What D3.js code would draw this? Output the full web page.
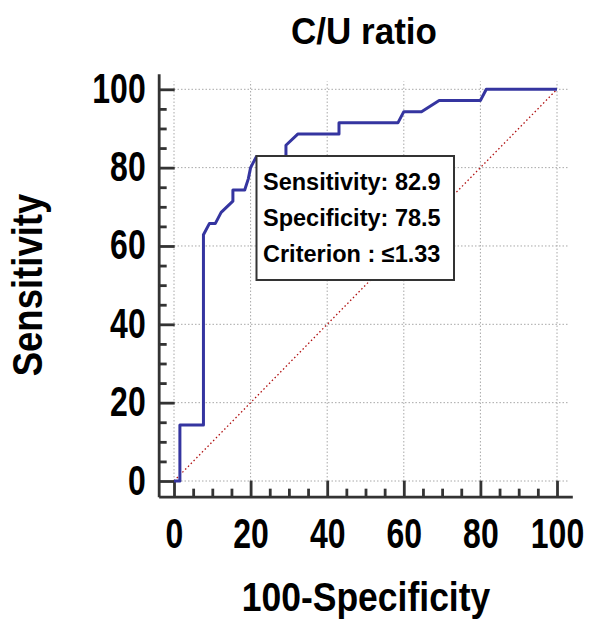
<!DOCTYPE html>
<html>
<head>
<meta charset="utf-8">
<script src="https://cdn.jsdelivr.net/npm/d3@7"></script>
<style>
  body { margin: 0; background: #fff; }
  text { font-family: "Liberation Sans", Arial, sans-serif; font-weight: bold; fill: #000; }
</style>
</head>
<body>
<div class="chart"></div>
<script>
// ROC curve points: 100-Specificity (x) and Sensitivity (y)
var fpr = [0, 1.54, 1.54, 7.69, 7.69, 9.23, 10.77, 12.31, 15.38, 15.38, 18.46, 19.4, 20, 21.54, 29.23, 29.23, 32.31, 43.08, 43.08, 58.46, 60, 64.62, 69.23, 80, 81.54, 100];
var tpr = [0, 0, 14.29, 14.29, 62.86, 65.71, 65.71, 68.57, 71.43, 74.29, 74.29, 77.14, 80, 82.86, 82.86, 85.71, 88.57, 88.57, 91.43, 91.43, 94.29, 94.29, 97.14, 97.14, 100, 100];
var majorTicks = [0, 20, 40, 60, 80, 100];
var minorTicks = d3.range(0, 101, 5).filter(d => d % 20 !== 0);
var boxLines = ['Sensitivity: 82.9', 'Specificity: 78.5', 'Criterion : \u22641.33'];

var W = 589, H = 620;
var svg = d3.select('.chart')
    .append('svg')
    .attr('width', W)
    .attr('height', H);

var x = d3.scaleLinear().domain([0, 100]).range([174, 557]);
var y = d3.scaleLinear().domain([0, 100]).range([481, 89.3]);

// axis scales reach a bit past the data range, like the original frame
var xAxisScale = x.copy().domain([-4, 104]).range([x(-4), x(104)]);
var yAxisScale = y.copy().domain([-4, 104]).range([y(-4), y(104)]);
var axisX0 = x(-4), axisY0 = y(-4);

/**
 * Grid
 */
var grid = svg.append('g')
    .attr('stroke', '#a8a8a8')
    .attr('stroke-width', 1)
    .attr('stroke-dasharray', '1.5,2');
grid.selectAll('.gx').data(majorTicks).enter()
    .append('line')
    .attr('x1', d => x(d)).attr('x2', d => x(d))
    .attr('y1', y(0)).attr('y2', y(102));
grid.selectAll('.gy').data(majorTicks).enter()
    .append('line')
    .attr('y1', d => y(d)).attr('y2', d => y(d))
    .attr('x1', x(0)).attr('x2', x(103));

// reference diagonal
svg.append('line')
    .attr('x1', x(0)).attr('y1', y(0))
    .attr('x2', x(100)).attr('y2', y(100))
    .attr('stroke', '#b01010')
    .attr('stroke-width', 1.3)
    .attr('stroke-dasharray', '1.5,2.5');

/**
 * Axes (ticks point inward)
 */
var yAxis = d3.axisLeft(yAxisScale)
    .tickValues(majorTicks)
    .tickSizeInner(-16)
    .tickSizeOuter(0)
    .tickPadding(13);
var gy = svg.append('g')
    .attr('transform', `translate(${axisX0}, 0)`)
    .call(yAxis);
gy.append('g').call(d3.axisLeft(yAxisScale).tickValues(minorTicks).tickSize(-8).tickFormat(''))
    .select('.domain').remove();
// labels in the original are drawn a little taller than the font
gy.selectAll('.tick text')
    .attr('y', 0).attr('dy', null)
    .attr('transform', 'translate(0, 13) scale(1, 1.3)');

var xAxis = d3.axisBottom(xAxisScale)
    .tickValues(majorTicks)
    .tickSizeInner(-16)
    .tickSizeOuter(0)
    .tickPadding(21);
var gx = svg.append('g')
    .attr('transform', `translate(0, ${axisY0})`)
    .call(xAxis);
gx.append('g').call(d3.axisBottom(xAxisScale).tickValues(minorTicks).tickSize(-8).tickFormat(''))
    .select('.domain').remove();
gx.selectAll('.tick text')
    .attr('y', 0).attr('dy', null)
    .attr('transform', 'translate(0, 51) scale(1, 1.3)');

svg.selectAll('.domain, .tick line')
    .attr('stroke', '#333')
    .attr('stroke-width', 2.8);
svg.selectAll('.tick text')
    .style('font-size', '32px')
    .style('font-family', '"Liberation Sans", Arial, sans-serif')
    .style('font-weight', 'bold')
    .attr('fill', '#000');

/**
 * ROC curve
 */
var line = d3.line()
    .x((d, i) => x(fpr[i]))
    .y((d, i) => y(tpr[i]));
svg.append('path')
    .datum(fpr)
    .attr('d', line)
    .attr('fill', 'none')
    .attr('stroke', '#3535a0')
    .attr('stroke-width', 3)
    .attr('stroke-linejoin', 'round');

/**
 * Info box
 */
var box = svg.append('g');
box.append('rect')
    .attr('x', 256.5).attr('y', 156)
    .attr('width', 197.5).attr('height', 124)
    .attr('fill', '#fff')
    .attr('stroke', '#333')
    .attr('stroke-width', 2);
box.selectAll('.info').data(boxLines).enter()
    .append('text')
    .attr('x', 263)
    .attr('y', (d, i) => 189.5 + i * 36)
    .style('font-size', '23.5px')
    .text(d => d);

/**
 * Titles
 */
svg.append('text')
    .attr('transform', 'translate(364, 44) scale(1, 1.05)')
    .attr('text-anchor', 'middle')
    .style('font-size', '35px')
    .text('C/U ratio');

svg.append('text')
    .attr('transform', 'translate(366, 611) scale(1, 1.17)')
    .attr('text-anchor', 'middle')
    .style('font-size', '35.5px')
    .text('100-Specificity');

svg.append('text')
    .attr('transform', 'translate(42, 285) rotate(-90) scale(1, 1.15)')
    .attr('text-anchor', 'middle')
    .style('font-size', '36.5px')
    .text('Sensitivity');
</script>
</body>
</html>
